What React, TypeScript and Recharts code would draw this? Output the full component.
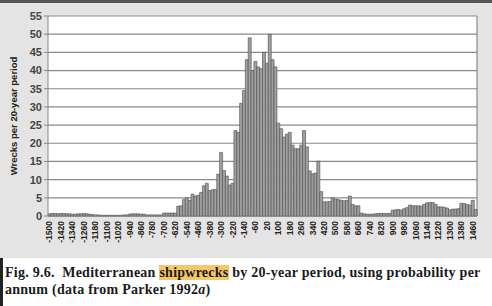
import React from 'react';
import { BarChart, Bar, XAxis, YAxis, CartesianGrid } from 'recharts';

// wrecks per 20-year period, -1500 .. 1480
const wrecks = [
  // -1500 .. -720
  0.6, 0.7, 0.7, 0.6, 0.7, 0.7, 0.6, 0.6,
  0.5, 0.5, 0.6, 0.6, 0.7,
  0.6, 0.5, 0.4, 0.3,
  0.3, 0.2, 0.2, 0.2, 0.2, 0.2,
  0.2, 0.2, 0.2, 0.3, 0.3,
  0.5, 0.6, 0.6, 0.6, 0.5, 0.5,
  0.3, 0.3, 0.3, 0.3, 0.3, 0.3,
  // -700 ..
  0.8, 0.8, 0.8, 0.8, 0.8,
  2.7, 2.8,
  4.5, 5, 4.3, 6, 5.5, 5.7, 6.5, 8.3, 9, 7, 7.2, 7.3,
  11.5, 17.5, 12.5, 11, 8.5, 9, 23.5, 23, 31, 34.5,
  43, 49, 40, 42.5, 41, 40.5, 45, 42, 50, 43, 41,
  25.5, 24, 21.7, 22.5, 23, 19.5, 18.5, 18.5, 19.5, 23.5, 19,
  12.4, 11.6, 11.8, 15.1, 6.7, 3.9, 3.9, 4.0, 5.0, 4.6, 4.5, 4.3, 4.2, 4.3, 5.5, 3.2, 2.8, 2.8,
  0.8, 0.6, 0.5, 0.5, 0.5, 0.6, 0.7, 0.7, 0.7, 0.7, 0.7,
  1.6, 1.7, 1.8, 1.6, 2.0, 2.3, 3.0, 2.8, 2.8, 2.8, 2.7, 3.2, 3.6, 3.7, 3.7,
  3.2, 2.5, 2.5, 2.4, 2.2, 1.7, 1.9, 1.9, 2.0, 3.5, 3.4, 3.2, 3.0, 4.3, 1.8,
];
const firstYear = -1500;
const yearStep = 20;
const yTicks = [0, 5, 10, 15, 20, 25, 30, 35, 40, 45, 50, 55];

const data = wrecks.map((v, i) => ({ year: firstYear + i * yearStep, wrecks: v }));

const sans = 'Liberation Sans, Arial, sans-serif';

export default function App() {
  return (
    <div style={{ position: 'absolute', left: 0, top: 0, width: 492, height: 306, background: '#fff', overflow: 'hidden' }}>
      <div style={{ position: 'absolute', left: 0, top: 0, width: 492, height: 258, background: '#e4e4e4', borderTop: '3px solid #555', boxSizing: 'border-box' }}>
        <BarChart width={492} height={255} data={data} margin={{ top: 13, right: 15, left: 0, bottom: 0 }} barCategoryGap={0}>
          <CartesianGrid
            fill="#fff"
            stroke="#8a8a8a"
            strokeWidth={1.2}
            verticalCoordinatesGenerator={({ offset }: any) => [offset.left + offset.width]}
          />
          <XAxis
            dataKey="year"
            interval={3}
            angle={-90}
            textAnchor="end"
            height={42}
            tickLine={false}
            axisLine={{ stroke: '#888' }}
            tick={{ fontSize: 8.5, fontWeight: 'bold', fill: '#222', fontFamily: sans, dy: -3, dx: -3 }}
          />
          <YAxis
            width={48}
            domain={[0, 55]}
            ticks={yTicks}
            interval={0}
            tickSize={4}
            tickMargin={2}
            axisLine={{ stroke: '#888' }}
            tickLine={{ stroke: '#888' }}
            tick={{ fontSize: 11, fontWeight: 'bold', fill: '#444', fontFamily: sans }}
            label={{
              value: 'Wrecks per 20-year period',
              angle: -90,
              position: 'insideLeft',
              offset: 14,
              style: { textAnchor: 'middle', fontSize: 9.5, fontWeight: 'bold', fill: '#222', fontFamily: sans },
            }}
          />
          <Bar dataKey="wrecks" fill="#a0a0a0" stroke="#4a4a4a" strokeWidth={0.6} isAnimationActive={false} />
        </BarChart>
      </div>
      <div style={{ position: 'absolute', left: 0, top: 258, width: 3, height: 48, background: '#222' }} />
      <div style={{ position: 'absolute', left: 5, top: 264, width: 490, fontFamily: 'Liberation Serif, serif', fontSize: 14, fontWeight: 'bold', letterSpacing: 0.25, lineHeight: '17px', color: '#1a1a1a', whiteSpace: 'nowrap' }}>
        <div>Fig. 9.6.&nbsp; Mediterranean <span style={{ background: '#f6c76a' }}>shipwrecks</span> by 20-year period, using probability per</div>
        <div>annum (data from Parker 1992<i>a</i>)</div>
      </div>
    </div>
  );
}
